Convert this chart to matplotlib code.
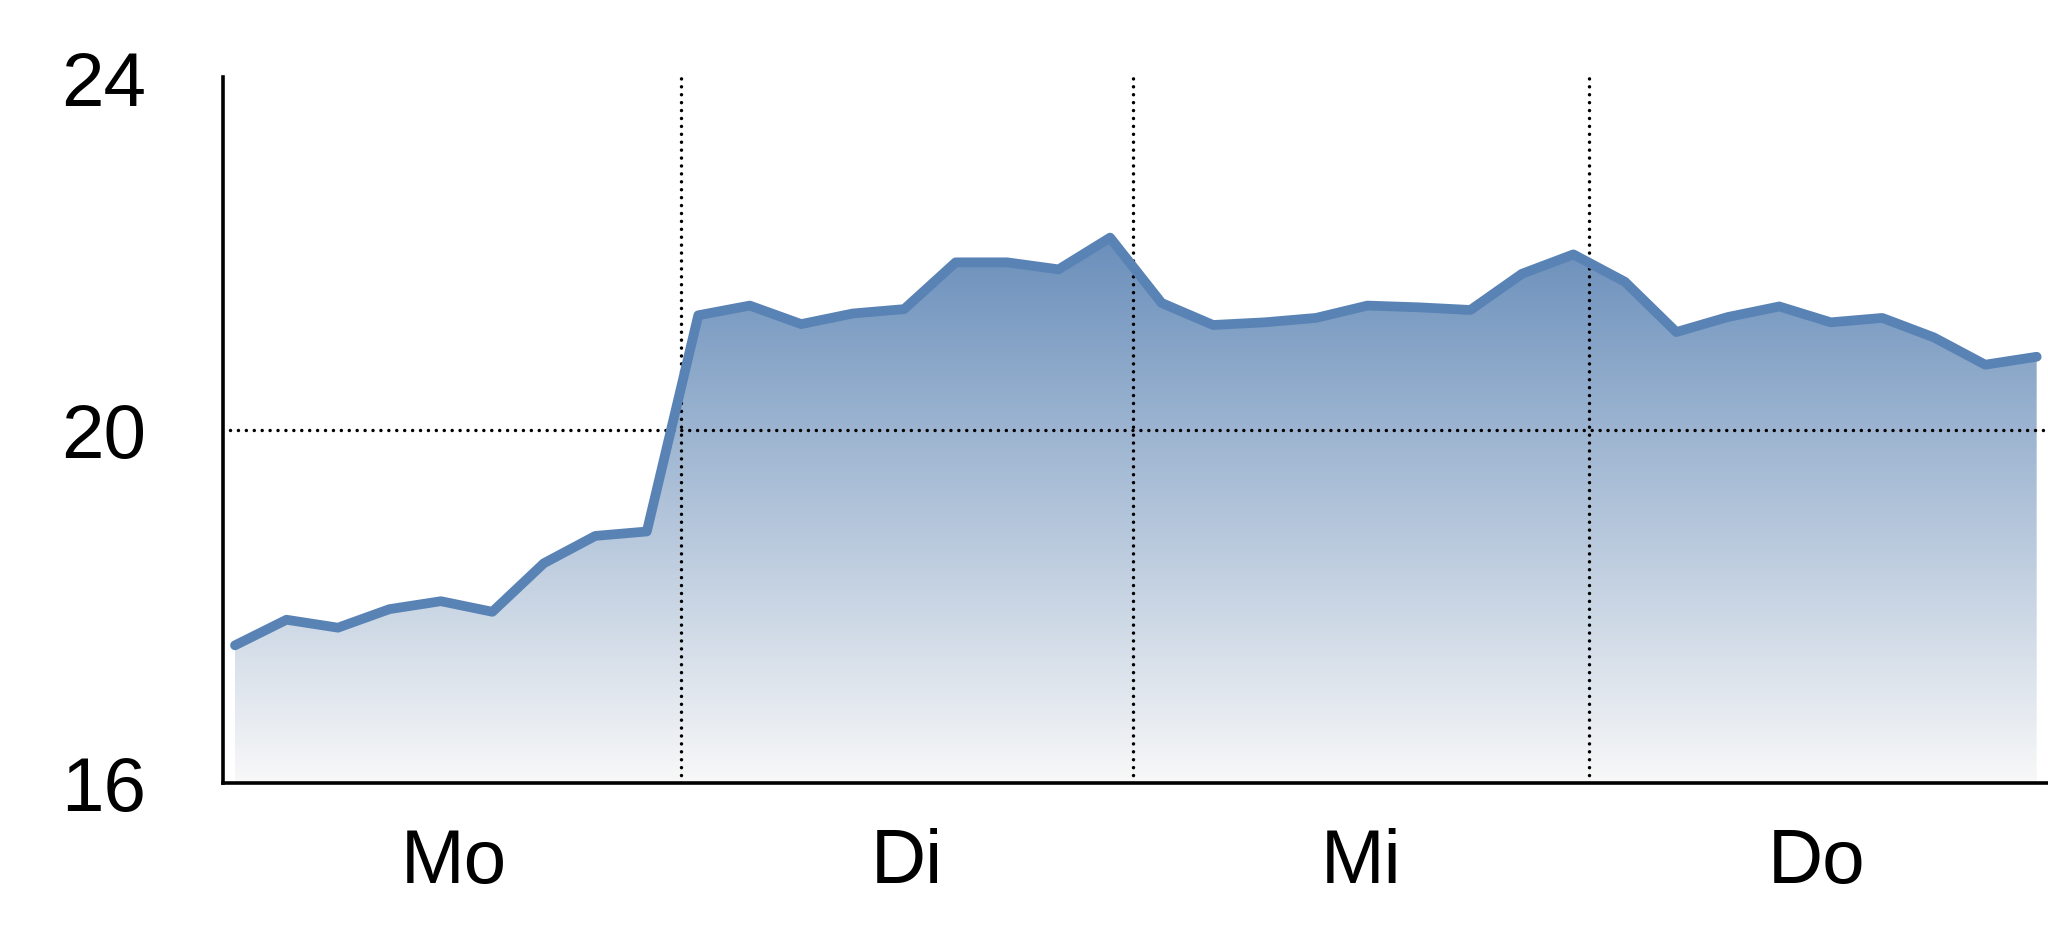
import numpy as np
import matplotlib
matplotlib.use("Agg")
import matplotlib.pyplot as plt
from matplotlib.colors import LinearSegmentedColormap
from matplotlib import font_manager

_names = {f.name for f in font_manager.fontManager.ttflist}
_fam = [n for n in ['Liberation Sans Narrow', 'Arial Narrow', 'Liberation Sans'] if n in _names]
plt.rcParams['font.family'] = _fam + ['DejaVu Sans']

# ---- data ----
values = [17.56, 17.85, 17.76, 17.97, 18.06, 17.94, 18.49, 18.80, 18.85,
          21.30, 21.41, 21.20, 21.32, 21.37, 21.90, 21.90, 21.82, 22.18,
          21.44, 21.19, 21.22, 21.27, 21.41, 21.39, 21.36, 21.77, 21.99,
          21.68, 21.11, 21.28, 21.40, 21.22, 21.27, 21.05, 20.74, 20.83]
day_labels = ["Mo", "Di", "Mi", "Do"]
y_ticks = [16, 20, 24]
ref_value = 20

# ---- layout ----
x = np.arange(len(values))
day_bounds = [-0.16, 8.66, 17.45, 26.31, 35.13]
day_centers = [(a + b) / 2 for a, b in zip(day_bounds[:-1], day_bounds[1:])]
xlim = (-0.233, 35.22)
ylim = (16, 24)

fig = plt.figure(figsize=(20.48, 9.37), dpi=100)
ax = fig.add_axes([223 / 2048, (937 - 784) / 937, 1 - 223 / 2048, (784 - 78) / 937])
ax.set_xlim(*xlim)
ax.set_ylim(*ylim)

line_color = '#5982b5'

# gradient fill
ymax = max(values)
cmap = LinearSegmentedColormap.from_list('g', ['#f8f8f8', '#6a8fbb'])
grad = np.linspace(0, 1, 256).reshape(-1, 1)
poly = ax.fill_between(x, values, ylim[0], color='none', lw=0)
img = ax.imshow(grad, cmap=cmap, aspect='auto', origin='lower',
                extent=[x[0], x[-1], ylim[0], ymax], zorder=1)
path = poly.get_paths()[0]
img.set_clip_path(path, transform=ax.transData)

# reference lines
dot_kw = dict(color='black', lw=2.5, linestyle=(0, (0.01, 2.27)),
              dash_capstyle='round', zorder=2)
ax.plot([x[0] - 0.1, x[-1] + 0.15], [ref_value, ref_value], **dot_kw)
for b in day_bounds[1:-1]:
    ax.plot([b, b], [ylim[0], ylim[1]], **dot_kw)

ax.plot(x, values, color=line_color, lw=7, solid_capstyle='round',
        solid_joinstyle='round', zorder=3)

# spines
for s in ['top', 'right']:
    ax.spines[s].set_visible(False)
for s in ['left', 'bottom']:
    ax.spines[s].set_linewidth(2.6)
    ax.spines[s].set_color('black')

ax.set_yticks(y_ticks)
ax.set_yticklabels([str(t) for t in y_ticks])
ax.set_xticks(day_centers)
ax.set_xticklabels(day_labels)
ax.tick_params(axis='both', length=0, labelsize=55)
ax.tick_params(axis='y', pad=55)
ax.tick_params(axis='x', pad=32)

fig.savefig('out.png', dpi=100)
